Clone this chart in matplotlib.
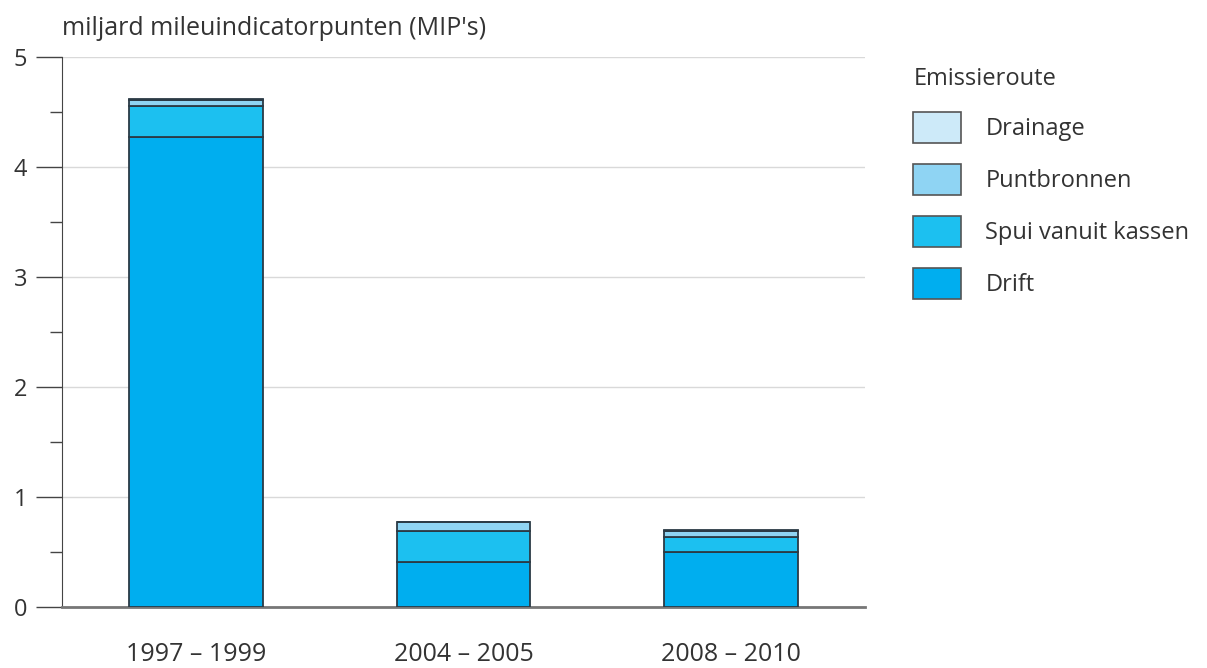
import matplotlib.pyplot as plt
from matplotlib.ticker import MultipleLocator
from matplotlib.patches import Patch
import numpy as np

plt.rcParams['font.family'] = ['Open Sans', 'DejaVu Sans']

# data (miljard MIP's)
periods = ["1997 – 1999", "2004 – 2005", "2008 – 2010"]
drift = [4.27, 0.41, 0.50]
spui = [0.28, 0.28, 0.135]
puntbronnen = [0.06, 0.08, 0.055]
drainage = [0.01, 0.006, 0.01]

series = ["Drift", "Spui vanuit kassen", "Puntbronnen", "Drainage"]
colors = ["#00aeef", "#1cc0f0", "#8fd4f3", "#cdeaf9"]
edge = "#2b3a45"
txt = "#333333"

fig = plt.figure(figsize=(12.07, 6.68), dpi=100)
ax = fig.add_axes([0.0514, 0.0913, 0.6653, 0.8234])

x = np.arange(len(periods))
bottom = np.zeros(len(periods))
for vals, col in zip([drift, spui, puntbronnen, drainage], colors):
    ax.bar(x, vals, width=0.5, bottom=bottom, color=col, edgecolor=edge, linewidth=1.3, zorder=3)
    bottom += np.array(vals)

ax.set_xlim(-0.5, 2.5)
ax.set_ylim(0, 5)
ax.yaxis.set_major_locator(MultipleLocator(1))
ax.yaxis.set_minor_locator(MultipleLocator(0.5))
ax.grid(axis='y', which='major', color='#d9d9d9', linewidth=1, zorder=0)
ax.set_xticks(x)
ax.set_xticklabels(periods, fontsize=18, color=txt)
ax.tick_params(axis='x', length=0, pad=25)
ax.tick_params(axis='y', which='major', length=19, width=1, color='#444444', labelsize=17, labelcolor=txt, pad=6)
ax.tick_params(axis='y', which='minor', length=9, width=1, color='#444444')
for s in ['top', 'right']:
    ax.spines[s].set_visible(False)
ax.spines['left'].set_color('#444444')
ax.spines['bottom'].set_color('#777777')
ax.spines['bottom'].set_linewidth(2)

fig.text(0.0514, 0.958, "miljard mileuindicatorpunten (MIP's)", fontsize=18, color=txt, va='center')

handles = [Patch(facecolor=c, edgecolor='#555555', linewidth=1.2, label=l)
           for c, l in zip(colors[::-1], series[::-1])]
leg = fig.legend(handles=handles, title="Emissieroute", loc='upper left',
                 bbox_to_anchor=(0.747, 0.918), frameon=False, fontsize=17,
                 title_fontsize=17, handlelength=2.0, handleheight=1.6,
                 labelspacing=0.92, handletextpad=1.05, alignment='left', borderpad=0)
for t in leg.get_texts():
    t.set_color(txt)
leg.get_title().set_color(txt)

fig.savefig("out.png", dpi=100)
